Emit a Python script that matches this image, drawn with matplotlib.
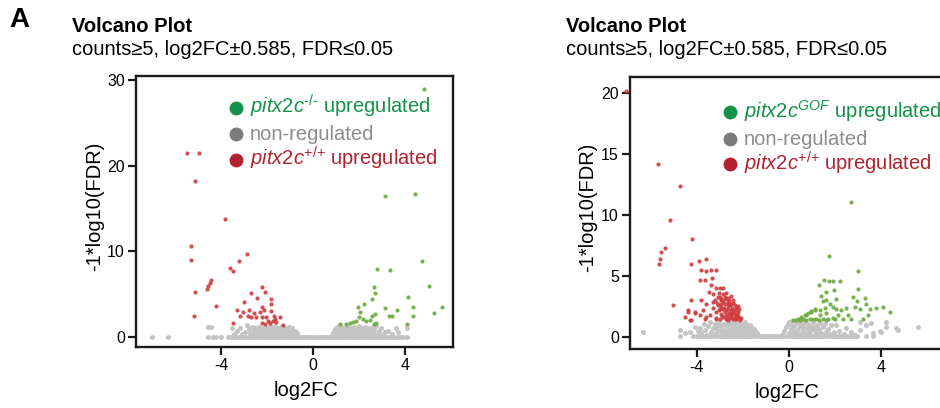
import matplotlib
matplotlib.use("Agg")
import matplotlib.pyplot as plt

plt.rcParams["font.family"] = ["Liberation Sans", "DejaVu Sans"]
plt.rcParams["mathtext.fontset"] = "custom"
plt.rcParams["mathtext.rm"] = "Liberation Sans"
plt.rcParams["mathtext.it"] = "Liberation Sans:italic"

# colours of the points and of the legend
red_pt = "#cf3b40"
green_pt = "#6caa3e"
grey_pt = "#c4c4c4"
red_leg = "#b3222f"
green_leg = "#13934a"
grey_leg = "#7b7b7b"
grey_txt = "#8c8c8c"

# ---- left panel: pitx2c-/- vs pitx2c+/+ (log2FC, -log10 FDR) ----
left_red = [(-5.50, 21.5), (-4.99, 21.5), (-5.16, 18.2), (-3.83, 13.8), (-5.35, 10.6),
            (-5.32, 9.0), (-2.87, 9.7), (-3.24, 8.9), (-3.64, 8.1), (-3.49, 7.7),
            (-4.47, 6.6), (-4.51, 6.3), (-4.58, 6.0), (-4.61, 5.6), (-5.16, 5.3),
            (-4.25, 3.6), (-5.21, 2.5), (-2.21, 5.8), (-2.69, 5.1), (-3.03, 4.1),
            (-2.43, 4.5), (-2.11, 5.3), (-1.82, 4.4), (-2.21, 3.5), (-1.85, 3.9),
            (-3.30, 3.2), (-3.05, 2.9), (-2.79, 3.1), (-2.59, 2.8), (-2.33, 2.9),
            (-2.12, 3.1), (-1.82, 3.0), (-3.20, 2.5), (-2.84, 2.5), (-2.47, 2.3),
            (-2.21, 2.3), (-2.04, 2.3), (-1.72, 2.4), (-1.45, 2.3), (-1.96, 1.9),
            (-1.77, 1.9), (-1.67, 2.1), (-1.86, 1.6), (-3.49, 1.6), (-1.31, 1.4),
            (-2.25, 1.6), (-2.11, 1.5), (-1.60, 1.75), (-2.69, 2.3)]

left_green = [(4.83, 28.9), (3.14, 16.5), (4.45, 16.7), (4.76, 8.9), (2.79, 7.9),
              (3.37, 7.8), (5.06, 6.0), (2.65, 5.8), (2.71, 5.1), (2.59, 4.4),
              (4.16, 4.7), (4.36, 3.5), (5.63, 3.5), (3.13, 3.4), (3.67, 3.1),
              (3.32, 2.5), (3.46, 2.5), (5.29, 2.8), (4.36, 2.5), (1.98, 3.5),
              (2.21, 3.8), (2.59, 2.5), (2.69, 2.7), (2.04, 2.9), (2.01, 2.3),
              (2.18, 2.1), (2.33, 1.9), (1.86, 1.9), (1.75, 1.75), (1.60, 1.6),
              (1.45, 1.5), (1.19, 1.5), (2.68, 1.5), (2.76, 1.6), (4.10, 1.5),
              (2.47, 2.0)]

left_base_x = [-7.05, -6.32, -4.6, -4.36, -4.22, -4.02, -3.7, -3.57, -3.45, -3.33,
               -3.2, -3.07, -2.96, -2.83, -2.71, -2.58, -2.46, -2.33, -2.21, -2.08,
               -1.96, -1.83, -1.71, -1.58, -1.46, -1.34, -1.21, -1.09, -0.96, -0.84,
               -0.71, -0.59, -0.46, -0.34, -0.21, -0.09, 0.04, 0.16, 0.29, 0.41,
               0.54, 0.66, 0.79, 0.91, 1.04, 1.16, 1.29, 1.41, 1.54, 1.66,
               1.79, 1.91, 2.04, 2.16, 2.29, 2.41, 2.54, 2.66, 2.79, 2.91,
               3.04, 3.16, 3.29, 3.41, 3.54, 3.66, 3.8, 3.94, 4.1]

left_grey = [(-4.57, 1.2), (-4.47, 1.2),
             (-3.55, 1.1), (-3.45, 0.4), (-3.3, 0.7), (-3.19, 1.0), (-3.1, 0.35),
             (-3.0, 0.2), (-2.95, 0.6), (-2.9, 1.4), (-2.8, 0.9), (-2.75, 0.5),
             (-2.7, 0.25), (-2.65, 1.15), (-2.6, 0.75), (-2.55, 0.3), (-2.53, 1.0),
             (-2.45, 0.7), (-2.38, 1.2), (-2.35, 0.25), (-2.31, 0.8), (-2.25, 0.45),
             (-2.2, 0.3), (-2.18, 1.05), (-2.12, 0.75), (-2.1, 1.2), (-2.05, 0.6),
             (-2.0, 0.9), (-1.98, 0.55), (-1.95, 0.3), (-1.9, 1.25), (-1.88, 0.4),
             (-1.85, 0.75), (-1.8, 1.1), (-1.78, 0.85), (-1.75, 0.5), (-1.72, 0.25),
             (-1.7, 0.95), (-1.65, 1.25), (-1.62, 0.6), (-1.6, 0.3), (-1.55, 0.7),
             (-1.52, 0.85), (-1.5, 1.1), (-1.48, 0.3), (-1.45, 0.5), (-1.4, 0.9),
             (-1.38, 0.55), (-1.35, 1.25), (-1.3, 0.35), (-1.28, 0.95), (-1.25, 0.75),
             (-1.2, 1.1), (-1.18, 0.25), (-1.15, 0.55), (-1.1, 0.9), (-1.08, 0.6),
             (-1.05, 1.2), (-1.0, 0.35), (-0.98, 0.85), (-0.95, 0.7), (-0.92, 0.3),
             (-0.9, 1.0), (-0.85, 0.45), (-0.8, 0.7), (-0.75, 0.3), (-0.72, 0.45),
             (-0.68, 0.2), (-1.42, 1.15), (-1.22, 0.45), (-1.58, 1.0), (-1.92, 0.65),
             (-2.28, 1.0), (-1.12, 1.0), (-1.32, 0.65), (-1.02, 0.55),
             (0.82, 0.2), (0.88, 0.45), (0.93, 0.7), (0.98, 0.95), (1.0, 0.5),
             (1.05, 1.2), (1.1, 0.4), (1.12, 1.0), (1.15, 0.6), (1.18, 1.35),
             (1.2, 0.8), (1.25, 0.2), (1.28, 0.5), (1.32, 1.1), (1.35, 0.65),
             (1.4, 0.3), (1.42, 1.05), (1.45, 0.85), (1.5, 1.25), (1.55, 0.6),
             (1.6, 0.25), (1.62, 1.05), (1.68, 0.35), (1.7, 1.1), (1.72, 0.8),
             (1.75, 0.45), (1.8, 1.2), (1.85, 0.5), (1.9, 0.95), (1.95, 0.6),
             (1.98, 0.3), (2.02, 1.25), (2.08, 0.7), (2.15, 1.0), (2.2, 0.4),
             (2.25, 0.25), (2.28, 1.2), (2.32, 0.65), (2.35, 1.05), (2.4, 0.9),
             (2.45, 0.3), (2.5, 0.5), (2.52, 1.1), (2.6, 0.55), (2.62, 1.2),
             (2.68, 0.85), (2.7, 0.2), (2.75, 1.25), (2.82, 0.4), (2.9, 0.7),
             (2.98, 1.0), (3.06, 0.35), (3.15, 0.6), (3.29, 0.7), (3.45, 0.3),
             (3.6, 1.0), (3.73, 0.6), (4.09, 1.1), (1.22, 1.15), (1.38, 0.95),
             (1.58, 0.75), (1.88, 1.1), (2.12, 0.55), (1.08, 0.75)]

# ---- right panel: pitx2cGOF vs pitx2c+/+ ----
right_red = [(-7.09, 20.2), (-5.68, 14.2), (-4.74, 12.4), (-5.14, 9.6), (-4.20, 8.0),
             (-5.39, 7.3), (-5.54, 7.0), (-5.61, 6.4), (-5.64, 6.0), (-5.03, 2.6),
             (-3.58, 6.4), (-3.90, 6.2), (-4.23, 6.0), (-3.83, 5.5), (-3.58, 5.4),
             (-3.36, 5.5), (-3.14, 5.5), (-3.87, 4.7), (-3.65, 4.7), (-3.32, 4.8),
             (-3.36, 4.3), (-3.14, 4.0), (-3.00, 4.0), (-2.86, 4.0), (-3.46, 3.7),
             (-3.29, 3.5), (-3.03, 3.6), (-2.71, 3.6), (-4.23, 3.0), (-3.80, 3.0),
             (-3.58, 2.7), (-3.29, 2.9), (-2.93, 3.0), (-2.64, 3.2), (-2.42, 3.0),
             (-4.38, 2.2), (-4.09, 2.05), (-4.52, 1.65), (-4.30, 1.4), (-3.65, 1.5),
             (-3.14, 2.05), (-2.86, 2.3), (-2.57, 2.6), (-2.35, 2.2), (-2.20, 1.7),
             (-2.71, 1.8), (-2.42, 1.5), (-2.13, 1.4), (-3.00, 1.5), (-3.43, 1.8),
             (-3.07, 2.6), (-2.93, 2.74), (-2.78, 2.74), (-2.64, 2.41), (-2.49, 2.25),
             (-2.35, 2.6), (-2.28, 1.92), (-2.57, 1.92), (-2.78, 2.05), (-2.93, 1.92),
             (-2.71, 1.5), (-2.49, 1.64), (-2.28, 1.5), (-2.06, 1.59), (-2.42, 1.97),
             (-2.86, 1.64), (-2.64, 2.88), (-3.07, 3.29), (-2.93, 3.15), (-2.78, 3.29),
             (-2.49, 2.74), (-2.35, 1.64), (-2.20, 2.05), (-3.14, 1.5), (-3.29, 2.41),
             (-2.64, 1.37), (-3.00, 2.33), (-4.39, 2.07), (-4.09, 1.94), (-3.87, 1.8),
             (-4.23, 1.39), (-3.58, 1.66), (-3.14, 1.53), (-3.73, 2.2),
             (-3.2, 3.0), (-3.1, 2.8), (-2.95, 2.5), (-2.85, 2.9), (-2.75, 3.1),
             (-2.7, 2.2), (-2.6, 2.0), (-2.55, 2.7), (-2.5, 1.8), (-2.45, 2.4),
             (-2.4, 2.1), (-2.3, 2.4), (-2.25, 1.75), (-2.15, 1.6), (-2.18, 2.3),
             (-2.4, 2.8), (-2.6, 3.0), (-2.8, 2.4), (-3.05, 2.2), (-2.9, 1.7),
             (-2.55, 1.55), (-2.35, 1.45), (-2.7, 1.65), (-2.45, 2.0), (-2.3, 1.85),
             (-2.2, 2.55), (-2.65, 2.6), (-3.0, 3.3), (-2.85, 3.5), (-2.5, 3.35)]

right_green = [(2.70, 11.07), (1.75, 6.66), (3.03, 5.4), (1.32, 4.25), (1.52, 4.66),
               (1.75, 4.6), (1.93, 4.6), (2.22, 4.58), (3.01, 3.9), (1.64, 3.7),
               (1.97, 3.84), (1.42, 3.34), (1.49, 2.93), (1.61, 3.0), (2.07, 3.1),
               (2.80, 3.29), (2.97, 2.93), (3.30, 3.23), (3.38, 2.74), (3.52, 2.33),
               (3.78, 2.41), (4.10, 2.47), (4.39, 2.05), (3.09, 2.33), (2.87, 2.47),
               (2.51, 2.41), (2.29, 2.19), (2.07, 2.33), (1.93, 2.47), (1.78, 2.74),
               (1.57, 2.41), (1.35, 2.19), (1.13, 2.33), (0.99, 2.05), (0.77, 1.78),
               (0.62, 1.5), (0.33, 1.42), (0.48, 1.42), (0.91, 1.5), (1.20, 1.5),
               (1.49, 1.5), (1.71, 1.5), (1.93, 1.59), (2.36, 1.5), (2.72, 1.5),
               (3.23, 1.5), (3.45, 1.78), (2.58, 1.78), (2.14, 1.78), (1.35, 1.78),
               (1.64, 1.97), (0.19, 1.37), (0.41, 1.5), (0.55, 1.64), (0.70, 1.78),
               (0.84, 1.97), (0.99, 2.14), (1.13, 2.25), (1.05, 1.45), (1.3, 1.42),
               (0.75, 1.42), (1.6, 1.42), (2.0, 1.45)]

right_base_x = [-4.74, -4.17, -4.0, -3.88, -3.75, -3.63, -3.5, -3.38, -3.25, -3.13,
                -3.0, -2.88, -2.75, -2.63, -2.5, -2.38, -2.25, -2.13, -2.0, -1.88,
                -1.75, -1.63, -1.5, -1.38, -1.25, -1.13, -1.0, -0.88, -0.75, -0.63,
                -0.5, -0.38, -0.25, -0.13, 0.0, 0.13, 0.25, 0.38, 0.5, 0.63,
                0.75, 0.88, 1.0, 1.13, 1.25, 1.38, 1.5, 1.63, 1.75, 1.88,
                2.0, 2.13, 2.25, 2.38, 2.5, 2.63, 2.75, 2.88, 2.96, 3.38, 3.65]

right_grey = [(-6.33, 0.43), (-4.52, 0.3), (-4.3, 0.43), (-4.09, 0.85), (-3.87, 0.71),
              (-3.96, 0.5), (-4.74, 0.6),
              (-3.8, 0.3), (-3.7, 1.1), (-3.65, 0.6), (-3.55, 0.2), (-3.5, 0.9),
              (-3.4, 1.25), (-3.38, 0.45), (-3.3, 0.75), (-3.22, 1.05), (-3.18, 0.3),
              (-3.15, 0.85), (-3.1, 0.6), (-3.05, 1.2), (-3.0, 0.9), (-2.95, 0.4),
              (-2.9, 0.5), (-2.88, 0.7), (-2.85, 0.15), (-2.82, 1.1), (-2.78, 0.25),
              (-2.75, 1.0), (-2.72, 0.55), (-2.7, 0.15), (-2.68, 0.95), (-2.62, 1.25),
              (-2.6, 0.6), (-2.58, 0.4), (-2.55, 1.15), (-2.52, 0.75), (-2.48, 1.05),
              (-2.45, 0.35), (-2.42, 0.25), (-2.4, 0.15), (-2.38, 0.6), (-2.35, 0.85),
              (-2.32, 0.95), (-2.3, 1.1), (-2.28, 1.25), (-2.25, 0.5), (-2.22, 0.4),
              (-2.18, 0.8), (-2.15, 0.15), (-2.12, 1.1), (-2.08, 0.25), (-2.05, 0.4),
              (-2.02, 0.6), (-2.0, 1.05), (-1.98, 0.95), (-1.95, 0.2), (-1.92, 1.2),
              (-1.9, 0.95), (-1.88, 0.4), (-1.85, 0.55), (-1.82, 0.75), (-1.78, 1.0),
              (-1.75, 0.85), (-1.72, 0.3), (-1.68, 0.6), (-1.65, 0.2), (-1.62, 0.85),
              (-1.58, 0.45), (-1.52, 0.65), (-1.48, 0.25), (-1.42, 0.45), (-1.38, 0.3),
              (-1.32, 0.15), (-2.2, 1.2), (-2.4, 1.2), (-2.1, 0.7), (-1.95, 0.7),
              (-1.7, 0.95), (-2.5, 0.5),
              (-0.3, 0.2), (-0.2, 0.5), (-0.12, 0.8), (-0.05, 1.05), (0.0, 0.35),
              (0.02, 1.25), (0.08, 0.65), (0.1, 1.0), (0.15, 1.3), (0.18, 0.2),
              (0.22, 0.9), (0.25, 0.4), (0.3, 1.15), (0.32, 0.45), (0.35, 0.2),
              (0.4, 0.7), (0.45, 1.25), (0.5, 0.25), (0.5, 1.0), (0.55, 0.95),
              (0.6, 0.5), (0.62, 0.85), (0.68, 1.2), (0.72, 0.3), (0.75, 0.2),
              (0.78, 0.75), (0.85, 1.05), (0.88, 0.6), (0.9, 0.45), (0.95, 0.2),
              (1.0, 0.85), (1.05, 1.2), (1.1, 0.55), (1.15, 0.8), (1.18, 0.3),
              (1.22, 0.95), (1.28, 0.25), (1.3, 0.65), (1.35, 1.15), (1.42, 0.35),
              (1.45, 0.2), (1.5, 0.8), (1.58, 1.05), (1.62, 0.4), (1.7, 0.7),
              (1.78, 0.25), (1.85, 0.95), (1.95, 0.4), (2.07, 0.98), (2.2, 0.5),
              (2.4, 0.25), (2.51, 0.71), (2.72, 0.43), (2.9, 0.2), (3.09, 0.57),
              (3.09, 1.25), (3.38, 0.98), (3.59, 1.12), (3.67, 0.3), (3.96, 0.5),
              (4.03, 0.43), (4.25, 1.25), (4.25, 0.85), (4.68, 0.71), (4.74, 0.6),
              (5.62, 0.85), (0.2, 0.6), (0.6, 1.1), (0.9, 0.9), (1.25, 0.5)]

panels = [
    dict(pos=[0.1447, 0.1495, 0.3372, 0.6642], xlim=(-7.73, 6.11), ylim=(-1.17, 30.46),
         yticks=[0, 10, 20, 30], red=left_red, green=left_green, grey=left_grey,
         base=left_base_x, sup="\u2010/\u2010", title_x=0.0766,
         leg_mk=[0.882, 0.786, 0.690], leg_txt=[0.860, 0.764, 0.668],
         xlab=(0.536, -0.125), ylab=(-0.132, 0.52)),
    dict(pos=[0.6702, 0.1446, 0.3372, 0.6667], xlim=(-6.9, 6.88), ylim=(-0.98, 21.31),
         yticks=[0, 5, 10, 15, 20], red=right_red, green=right_green, grey=right_grey,
         base=right_base_x, sup="GOF", title_x=0.602,
         leg_mk=[0.871, 0.772, 0.680], leg_txt=[0.849, 0.750, 0.658],
         xlab=(0.494, -0.125), ylab=(-0.1325, 0.52)),
]

fig = plt.figure(figsize=(9.4, 4.08), dpi=100)

fig.text(0.0099, 0.935, "A", fontsize=20, fontweight="bold")

for p in panels:
    ax = fig.add_axes(p["pos"])
    ax.set_xlim(*p["xlim"])
    ax.set_ylim(*p["ylim"])

    ax.scatter(p["base"], [0.05] * len(p["base"]), s=13, c=grey_pt, lw=0, zorder=2)
    ax.scatter(*zip(*p["grey"]), s=13, c=grey_pt, lw=0, zorder=2)
    ax.scatter(*zip(*p["red"]), s=9, c=red_pt, lw=0, alpha=0.9, zorder=3, clip_on=False)
    ax.scatter(*zip(*p["green"]), s=9, c=green_pt, lw=0, alpha=0.9, zorder=3)

    ax.set_xticks([-4, 0, 4])
    ax.set_xticklabels(["-4", "0", "4"])
    ax.set_yticks(p["yticks"])
    ax.tick_params(length=6, width=1.6, labelsize=11.5, pad=2, color="#1a1a1a")
    for s in ax.spines.values():
        s.set_linewidth(1.7)
        s.set_color("#1a1a1a")

    ax.text(p["xlab"][0], p["xlab"][1], "log2FC", transform=ax.transAxes,
            ha="center", va="top", fontsize=14.5)
    ax.text(p["ylab"][0], p["ylab"][1], "-1*log10(FDR)", transform=ax.transAxes,
            ha="center", va="center", rotation=90, fontsize=14.5)

    # legend drawn by hand
    labels = [r"$\mathit{pitx2c}^{\mathit{%s}}$ upregulated" % p["sup"],
              "non-regulated",
              r"$\mathit{pitx2c}^{\mathit{{+}/{+}}}$ upregulated"]
    mk_cols = [green_leg, grey_leg, red_leg]
    txt_cols = [green_leg, grey_txt, red_leg]
    for lab, ym, yt, mc, tc in zip(labels, p["leg_mk"], p["leg_txt"], mk_cols, txt_cols):
        ax.plot(0.3155, ym, "o", ms=10, color=mc, mec="none",
                transform=ax.transAxes, clip_on=False)
        ax.text(0.36, yt, lab, transform=ax.transAxes, va="baseline",
                fontsize=14.5, color=tc)

    fig.text(p["title_x"], 0.922, "Volcano Plot", fontsize=14.5, fontweight="bold")
    fig.text(p["title_x"], 0.865, "counts\u22655, log2FC\u00b10.585, FDR\u22640.05",
             fontsize=14.5)

fig.savefig("out.png", dpi=100)
